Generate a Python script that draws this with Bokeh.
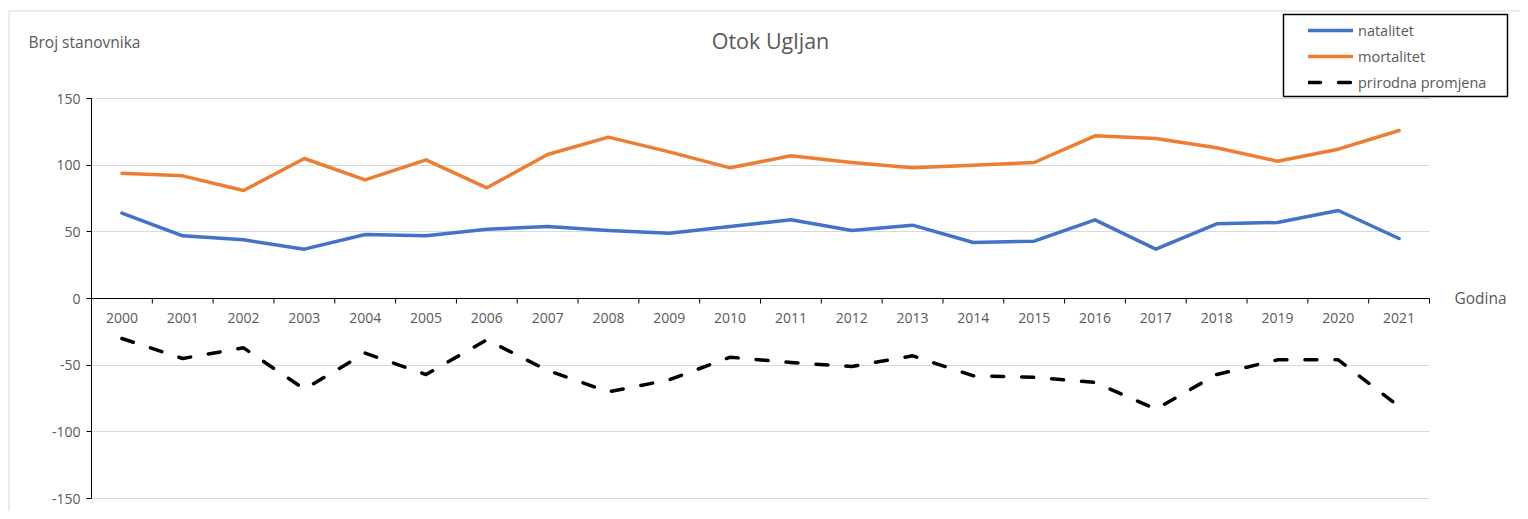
from bokeh.plotting import figure
from bokeh.models import (Range1d, FixedTicker, Label, Legend, LegendItem,
                          BoxAnnotation, LinearAxis)
from bokeh.embed import file_html
from bokeh.resources import INLINE

# ---- data ----
title = "Otok Ugljan"
y_title = "Broj stanovnika"
x_title = "Godina"
years = list(range(2000, 2022))
natalitet = [64, 47, 44, 37, 48, 47, 52, 54, 51, 49, 54, 59, 51, 55, 42, 43, 59, 37, 56, 57, 66, 45]
mortalitet = [94, 92, 81, 105, 89, 104, 83, 108, 121, 110, 98, 107, 102, 98, 100, 102, 122, 120, 113, 103, 112, 126]
prirodna = [-30, -45, -37, -68, -41, -57, -31, -54, -70, -61, -44, -48, -51, -43, -58, -59, -63, -83, -57, -46, -46, -81]
series_names = ["natalitet", "mortalitet", "prirodna promjena"]
y_ticks = [-150, -100, -50, 0, 50, 100, 150]

GRAY_TEXT = "#595959"
FONT = "Open Sans"

# ---- layout (pixels) ----
W, H = 1520, 511
PL, PR, PT, PB = 91, 1429, 98, 498          # plot area edges on the canvas
TICK_LEN = 5
x_lo, x_hi = years[0] - 0.5, years[-1] + 0.5
y_lo, y_hi = y_ticks[0], y_ticks[-1]
xs = (x_hi - x_lo) / (PR - PL)
ys = (y_hi - y_lo) / (PB - PT)

p = figure(width=W, height=H, output_backend="svg", toolbar_location=None,
           x_range=Range1d(x_lo - PL * xs, x_hi + (W - PR) * xs),
           y_range=Range1d(y_lo - (H - PB) * ys, y_hi + PT * ys),
           x_axis_type=None,
           min_border_left=0, min_border_right=0, min_border_top=0, min_border_bottom=0)
p.outline_line_color = None
p.background_fill_color = "white"
p.border_fill_color = "white"

# y axis drawn at the left edge of the plot area
yax = p.yaxis[0]
yax.fixed_location = x_lo
yax.bounds = (y_lo, y_hi)
yax.ticker = FixedTicker(ticks=y_ticks)
yax.major_label_overrides = {t: str(t) for t in y_ticks}
yax.axis_line_color = "black"
yax.major_tick_line_color = "black"
yax.major_tick_out = TICK_LEN
yax.major_tick_in = 0
yax.minor_tick_line_color = None
yax.major_label_text_font = FONT
yax.major_label_text_font_size = "14px"
yax.major_label_text_color = GRAY_TEXT
yax.major_label_standoff = 6

p.ygrid.ticker = FixedTicker(ticks=[t for t in y_ticks if t != 0])
p.ygrid.cross_bounds = (x_lo, x_hi)
p.ygrid.grid_line_color = "#D9D9D9"
p.ygrid.grid_line_width = 1
p.xgrid.visible = False

# category x axis drawn at y = 0: axis line + category labels
xlab = LinearAxis(fixed_location=0, bounds=(x_lo, x_hi), ticker=FixedTicker(ticks=years),
                  major_label_overrides={y: str(y) for y in years},
                  axis_line_color="black", major_tick_line_color=None, minor_tick_line_color=None,
                  major_tick_out=0, major_tick_in=0, major_label_standoff=14,
                  major_label_text_font=FONT, major_label_text_font_size="14px",
                  major_label_text_color=GRAY_TEXT)
p.add_layout(xlab, "below")
# tick marks on the category boundaries
bounds = [y - 0.5 for y in years] + [years[-1] + 0.5]
p.segment(x0=bounds, y0=[0] * len(bounds), x1=bounds, y1=[-TICK_LEN * ys] * len(bounds),
          line_color="black", line_width=1)

# series
r1 = p.line(years, natalitet, line_color="#4472C4", line_width=3.5, line_join="round", line_cap="round")
r2 = p.line(years, mortalitet, line_color="#ED7D31", line_width=3.5, line_join="round", line_cap="round")
r3 = p.line(years, prirodna, line_color="black", line_width=3.5, line_join="round", line_cap="round",
            line_dash="12 18")

# texts (screen units from canvas bottom-left)
p.add_layout(Label(x=770, y=H - 40, x_units="screen", y_units="screen", text=title,
                   text_align="center", text_baseline="middle", text_font=FONT,
                   text_font_size="21.5px", text_color=GRAY_TEXT))
p.add_layout(Label(x=28, y=H - 41, x_units="screen", y_units="screen", text=y_title,
                   text_align="left", text_baseline="middle", text_font=FONT,
                   text_font_size="15.5px", text_color=GRAY_TEXT))
p.add_layout(Label(x=1454, y=H - 297, x_units="screen", y_units="screen", text=x_title,
                   text_align="left", text_baseline="middle", text_font=FONT,
                   text_font_size="15.5px", text_color=GRAY_TEXT))

# legend
legend = Legend(items=[LegendItem(label=series_names[0], renderers=[r1]),
                       LegendItem(label=series_names[1], renderers=[r2]),
                       LegendItem(label=series_names[2], renderers=[r3])],
                location=(1308, H - 92), border_line_color=None, background_fill_alpha=0,
                padding=6, spacing=6, label_height=20, glyph_width=45, glyph_height=20,
                label_standoff=5, margin=0,
                label_text_font=FONT, label_text_font_size="14.5px", label_text_color=GRAY_TEXT)
p.add_layout(legend, "center")
p.add_layout(BoxAnnotation(left=1283, right=1507, bottom=H - 96, top=H - 14,
                           left_units="screen", right_units="screen",
                           bottom_units="screen", top_units="screen",
                           fill_alpha=0, line_color="black", line_alpha=1, line_width=1.5))
# outer chart border
p.add_layout(BoxAnnotation(left=8.5, right=W + 50, bottom=-50, top=H - 10.5,
                           left_units="screen", right_units="screen",
                           bottom_units="screen", top_units="screen",
                           fill_alpha=0, line_color="#D9D9D9", line_alpha=1, line_width=1))

open("out.html", "w").write(file_html(p, INLINE))
